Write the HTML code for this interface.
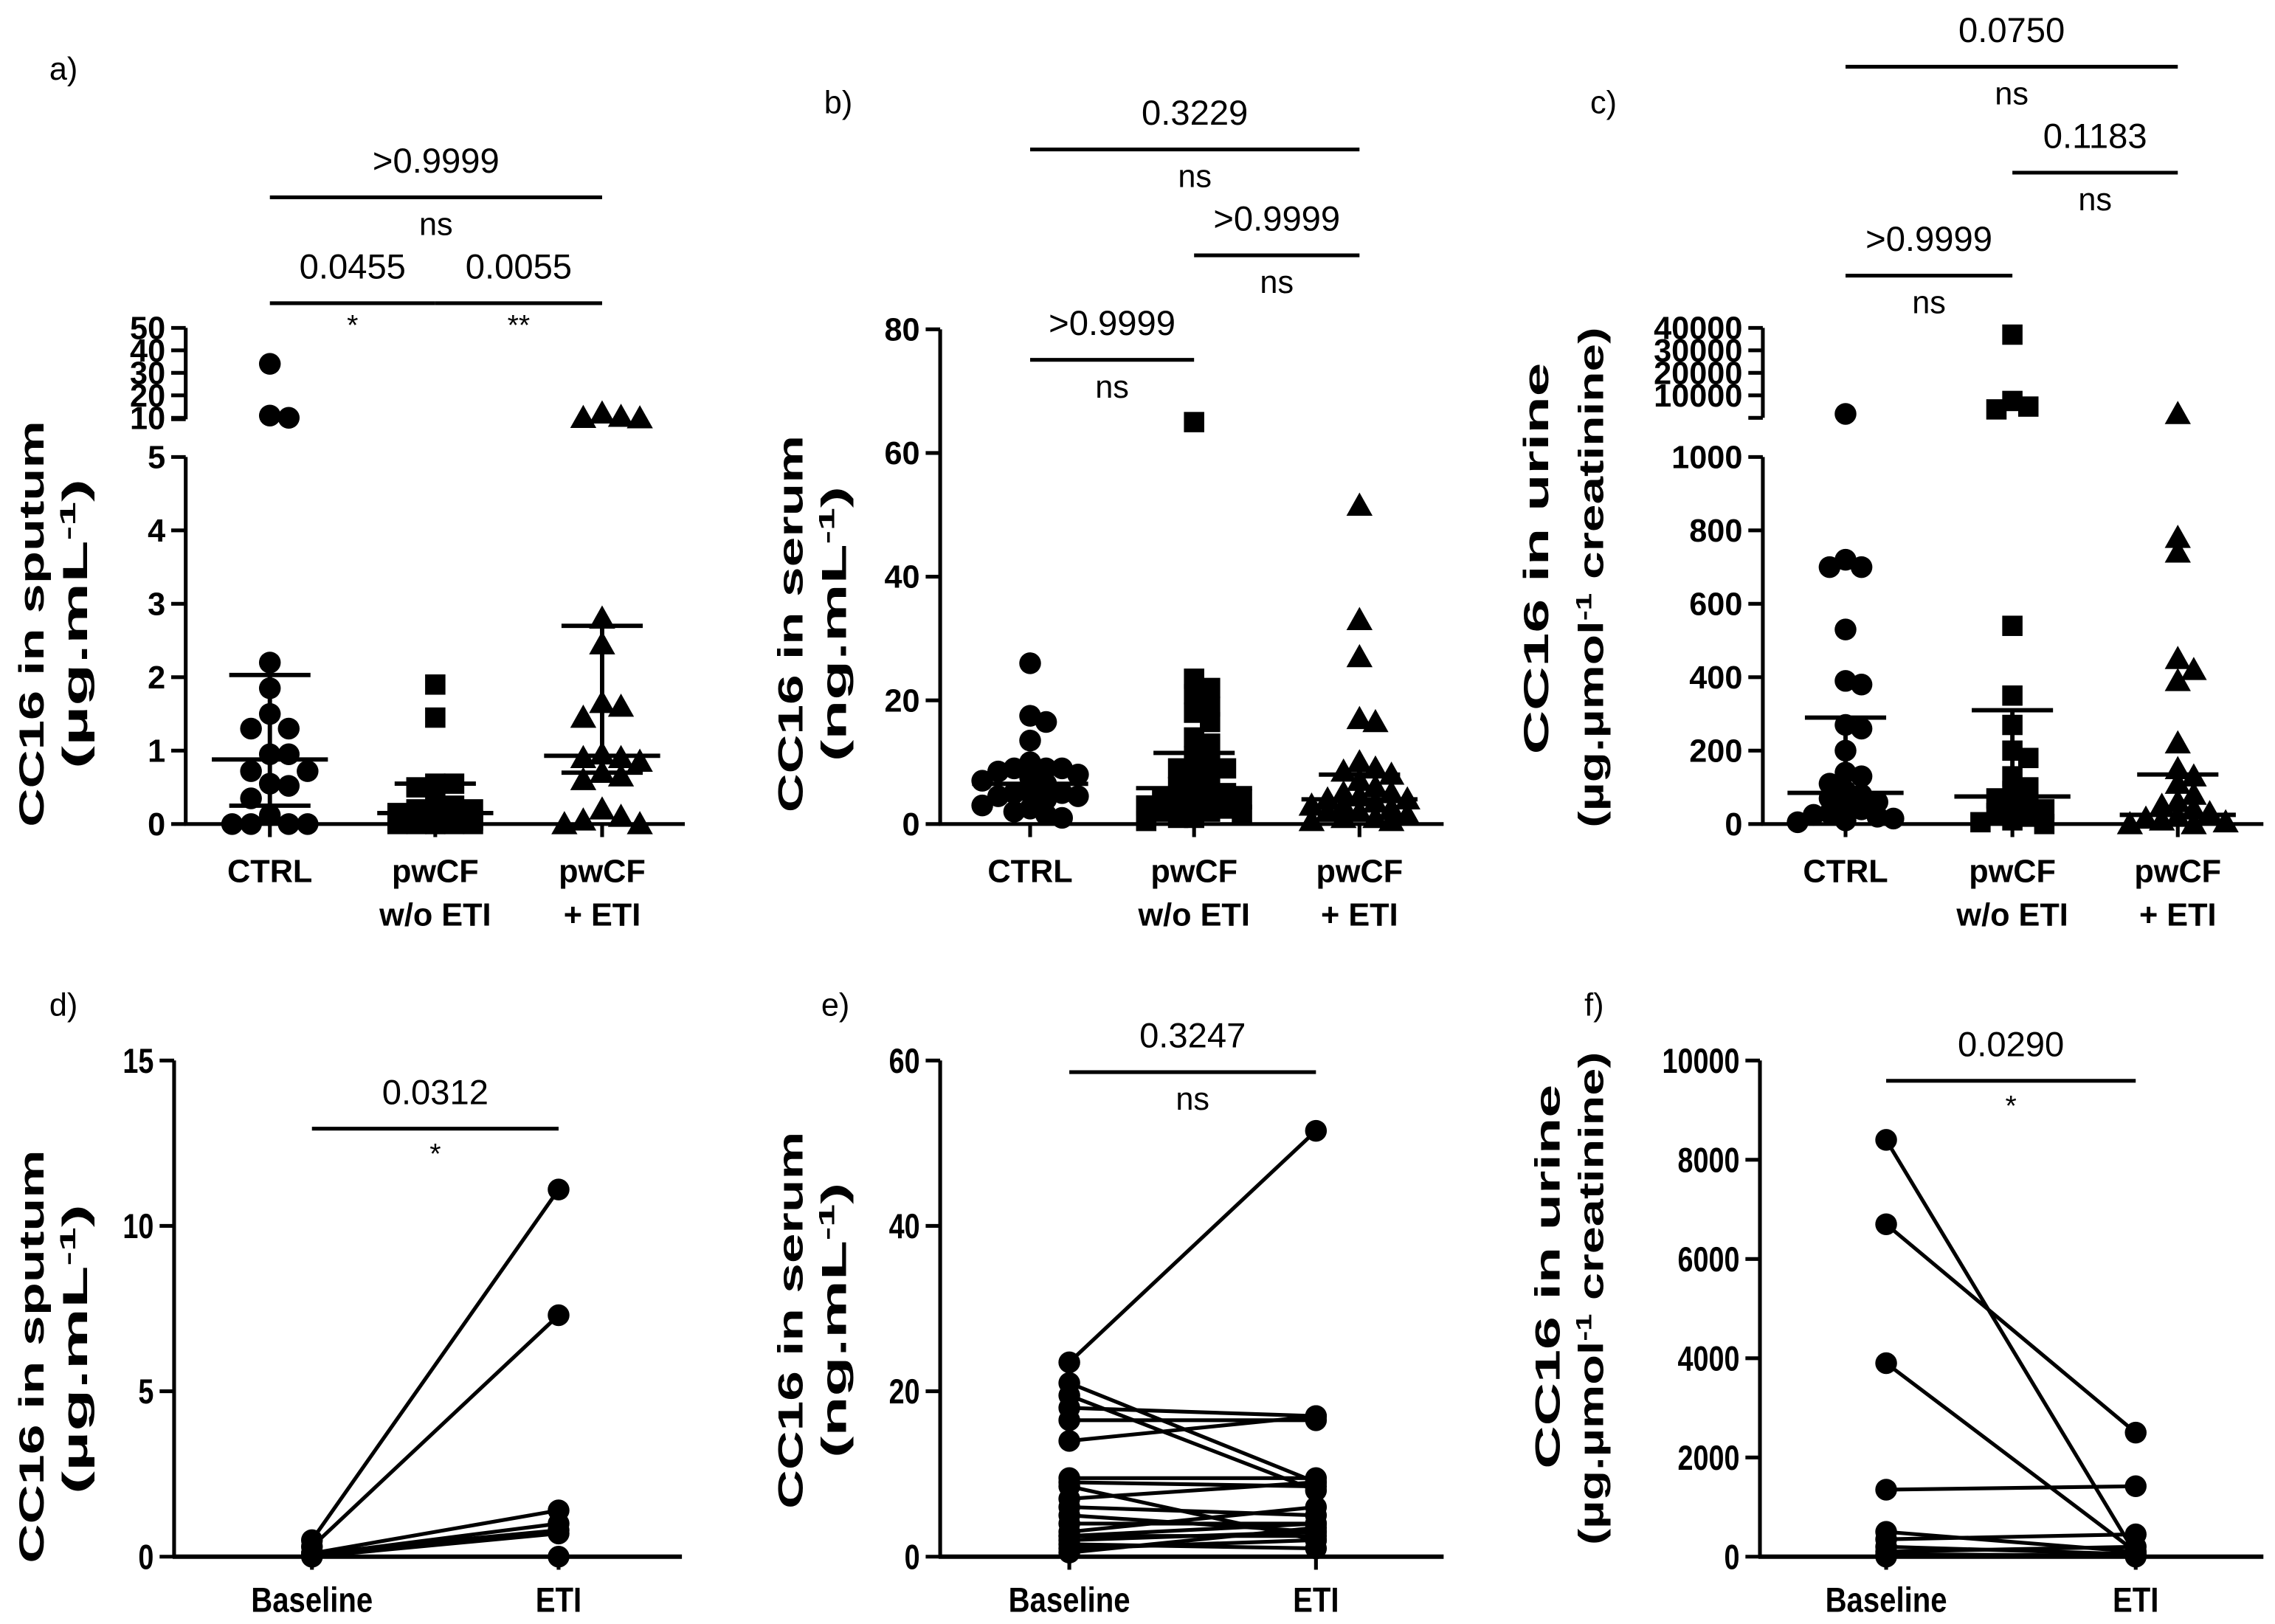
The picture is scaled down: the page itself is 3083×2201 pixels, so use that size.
<!DOCTYPE html>
<html><head><meta charset="utf-8"><style>
html,body{margin:0;padding:0;background:#fff}
svg{display:block}
text{font-family:"Liberation Sans",Arial,sans-serif;fill:#000}
</style></head><body>
<svg id="fig" xmlns="http://www.w3.org/2000/svg" width="3083" height="2201" viewBox="0 0 1568 1119.4"></svg>
<script>
// ---------- DATA ----------
const groupLabels = [["CTRL"],["pwCF","w/o ETI"],["pwCF","+ ETI"]];
// panel a (sputum, µg/mL)
const aCtrl = [34,11,10,2.2,1.85,1.5,1.3,1.3,0.95,0.95,0.72,0.72,0.55,0.52,0.35,0.12,0,0,0,0];
const aNoEti = [1.9,1.45,0.55,0.55,0.5,0.3,0.25,0.2,0.2,0.15,0.15,0.1,0.1,0.05,0.05,0.05,0,0,0,0,0,0];
const aEti = [12,10.5,10,9.5,2.8,2.45,1.65,1.6,1.45,0.95,0.9,0.9,0.85,0.7,0.65,0.6,0.2,0.1,0.05,0,0];
const aMed = [0.88,0.15,0.93], aQ1 = [0.25,0.02,0.7], aQ3 = [2.03,0.55,2.7];
// panel b (serum, ng/mL)
const bCtrl = [26,17.5,16.5,13.5,10,9,9,9,8.5,8,7.5,7,6.5,5,5,5,4.5,4.5,4,3,2.5,2,1.5,1];
const bNoEti = [65,23.5,22,21,19,18,16.5,14,13,11,10,9,9,8,7,6,5.5,5,4.5,4,4,3.5,3,3,2.5,2,2,1.5,1,1,0.5];
const bEti = [51.5,33,27,17,16.5,10,9,8.5,8,7,6,5,5,4.5,4,4,3.5,3,3,2.5,2,2,1.5,1,1,0.5,0.5];
const bMed = [6.5,5.8,4], bQ1 = [6.5,2.5,1], bQ3 = [6.5,11.5,8];
// panel c (urine, µg/µmol creatinine)
const cCtrl = [6700,720,700,700,530,390,380,270,260,200,140,130,110,90,80,70,60,50,40,30,25,20,15,10,5];
const cNoEti = [37000,9000,8000,7500,540,350,270,200,180,130,100,90,70,60,50,40,30,20,10,5,0];
const cEti = [6700,780,740,450,420,390,220,150,130,110,80,60,50,40,30,20,15,10,5,0,0];
const cMed = [85,75,25], cQ1 = [85,75,25], cQ3 = [290,310,135];
// paired panels
const pairLabels = ["Baseline","ETI"];
const dBase = [0.5,0.3,0.1,0.05,0.1,0,0], dEti = [11.1,7.3,1.4,1.0,0.8,0.7,0];
const eBase = [23.5,21,19.5,18,16.5,14,9.5,9,8.5,7,6,5,4,3,2.5,2.5,2,1.5,1,0.5];
const eEti = [51.5,9,8,17,16.5,17,9.5,8.5,2,9,5,3,4,6,4,2.5,3,1,2,3.5];
const fBase = [8400,6700,3900,1350,500,350,200,100,50,0];
const fEti = [50,2500,100,1420,100,450,50,200,20,0];
// ticks
const aLowTicks = [0,1,2,3,4,5], aUpTicks = [10,20,30,40,50];
const bTicks = [0,20,40,60,80];
const cLowTicks = [0,200,400,600,800,1000], cUpTicks = [10000,20000,30000,40000];
const dTicks = [0,5,10,15], eTicks = [0,20,40,60], fTicks = [0,2000,4000,6000,8000,10000];
// significance brackets: [label, fromGroup, toGroup, stars]
const aSig = [[">0.9999",0,2,"ns"],["0.0455",0,1,"*"],["0.0055",1,2,"**"]];
const bSig = [["0.3229",0,2,"ns"],[">0.9999",1,2,"ns"],[">0.9999",0,1,"ns"]];
const cSig = [["0.0750",0,2,"ns"],["0.1183",1,2,"ns"],[">0.9999",0,1,"ns"]];
const dSig = ["0.0312","*"], eSig = ["0.3247","ns"], fSig = ["0.0290","*"];

// ---------- DRAWING ----------
const NS="http://www.w3.org/2000/svg";
const svg=document.getElementById('fig');
function el(tag,attrs,parent,txt){const e=document.createElementNS(NS,tag);for(const k in attrs)e.setAttribute(k,attrs[k]);if(txt!==undefined)e.textContent=txt;(parent||svg).appendChild(e);return e;}
function line(g,x1,y1,x2,y2,w){return el('line',{x1,y1,x2,y2,stroke:'#000','stroke-width':w||2.6},g);}
function txt(g,x,y,s,size,anchor,bold){return el('text',{x,y,'font-size':size,'text-anchor':anchor||'middle','font-weight':bold?'bold':'normal'},g,s);}

function makeScale(ax){
  return function(v){
    if(!ax.up || v<=ax.lowMax) return ax.y0-(v/ax.lowMax)*(ax.y0-ax.y1);
    const vs=ax.up.vals, ps=ax.up.pos;
    if(v<=vs[0]) return ps[0];
    for(let i=1;i<vs.length;i++){ if(v<=vs[i]) return ps[i-1]+(v-vs[i-1])/(vs[i]-vs[i-1])*(ps[i]-ps[i-1]); }
    return ps[ps.length-1];
  };
}
function marker(g,shape,x,y,name){
  let m;
  if(shape==='c') m=el('circle',{cx:x,cy:y,r:7.5,fill:'#000'},g);
  else if(shape==='s') m=el('rect',{x:x-7,y:y-7,width:14,height:14,fill:'#000'},g);
  else m=el('polygon',{points:`${x},${y-9} ${x+9},${y+7} ${x-9},${y+7}`,fill:'#000'},g);
  
  
  return m;
}
function yTitle(g,x,gap,lines){
  lines.forEach((ln,i)=>{
    const t=el('text',{x:0,y:0,'font-size':24,'font-weight':'bold','text-anchor':'middle',textLength:ln.len,lengthAdjust:'spacingAndGlyphs',transform:`translate(${x+i*gap},${ln.cy}) rotate(-90)`},g);
    
    
    ln.parts.forEach(p=>{el('tspan',p.sup?{'baseline-shift':'super','font-size':15}:{},t,p.t);});
  });
}
function axisY(g,ax,lowTicks,upTicks,fs,sx){
  const sc=makeScale(ax);
  line(g,ax.x,ax.y0+1,ax.x,ax.y1);
  const lab=(v,y,cls)=>{
    const t=el('text',{x:0,y:0,'font-size':fs,'font-weight':'bold','text-anchor':'end',transform:`translate(${ax.x-14},${y+fs*0.35}) scale(${sx},1)`},g,String(v));
    
  };
  lowTicks.forEach(v=>{const y=sc(v);line(g,ax.x-10,y,ax.x,y);lab(v,y,'y-tick-label');});
  if(ax.up){
    const ps=ax.up.pos;
    line(g,ax.x,ps[0],ax.x,ps[ps.length-1]);
    line(g,ax.x-10,ps[0],ax.x,ps[0]);
    upTicks.forEach(v=>{const y=sc(v);line(g,ax.x-10,y,ax.x,y);lab(v,y,'y-tick-label-upper');});
  }
  return sc;
}
function scatterPanel(cfg){
  const g=el('g',{},svg);
  
  
  const pl=txt(g,cfg.lx,cfg.ly,cfg.letter,22,'start');
  
  const sc=axisY(g,cfg.ax,cfg.lowTicks,cfg.upTicks,22,1);
  line(g,cfg.ax.x-1,cfg.ax.y0,cfg.xEnd,cfg.ax.y0);
  cfg.gx.forEach((gx,i)=>{
    line(g,gx,cfg.ax.y0,gx,cfg.ax.y0+9);
    groupLabels[i].forEach((s,j)=>{const t=txt(g,gx,cfg.ax.y0+40+j*30,s,22,'middle',true);});
    const vals=cfg.data[i].slice().sort((a,b)=>b-a);
    const placed=[];const d=cfg.spread;const maxK=Math.floor(cfg.cap/d)*2;
    vals.forEach(v=>{
      const y=sc(v);let best=0,bestD=-1;
      for(let k=0;k<=maxK;k++){
        const cand=k===0?0:(k%2?1:-1)*Math.ceil(k/2)*d;
        const md=placed.length?Math.min(...placed.map(p=>Math.hypot(p[0]-cand,p[1]-y))):999;
        if(md>=cfg.minDist){best=cand;break;}
        if(md>bestD){bestD=md;best=cand;}
      }
      placed.push([best,y]);
      marker(g,cfg.shape[i],gx+best,y,'data-point');
    });
    const ym=sc(cfg.med[i]),y1=sc(cfg.q1[i]),y3=sc(cfg.q3[i]);
    line(g,gx,y1,gx,y3,3);
    line(g,gx-40,ym,gx+40,ym,3);
    if(cfg.q1[i]!==cfg.med[i]) line(g,gx-28,y1,gx+28,y1,3);
    line(g,gx-28,y3,gx+28,y3,3);
  });
  cfg.sig.forEach((s,i)=>{
    const y=cfg.sigY[i];const x1=cfg.gx[s[1]],x2=cfg.gx[s[2]];
    const l=line(g,x1,y,x2,y,2.6);
    const t1=txt(g,(x1+x2)/2,y-17,s[0],24);
    const t2=txt(g,(x1+x2)/2,y+(s[3]==='ns'?26:22),s[3],s[3]==='ns'?22:20);
  });
  yTitle(g,cfg.tx,cfg.gap||30,cfg.title);
}
function pairedPanel(cfg){
  const g=el('g',{},svg);
  
  
  const pl=txt(g,cfg.lx,cfg.ly,cfg.letter,22,'start');
  
  const sc=axisY(g,cfg.ax,cfg.ticks,null,24,0.8);
  line(g,cfg.ax.x-1,cfg.ax.y0,cfg.xEnd,cfg.ax.y0,3);
  cfg.gx.forEach((gx,i)=>{
    line(g,gx,cfg.ax.y0,gx,cfg.ax.y0+9);
    const t=el('text',{x:0,y:0,'font-size':24,'font-weight':'bold','text-anchor':'middle',transform:`translate(${gx},${cfg.ax.y0+38}) scale(0.85,1)`},g,pairLabels[i]);
    
  });
  cfg.base.forEach((v,i)=>{
    const l=line(g,cfg.gx[0],sc(v),cfg.gx[1],sc(cfg.eti[i]),2.6);
    
    marker(g,'c',cfg.gx[0],sc(v),'baseline-point');
    marker(g,'c',cfg.gx[1],sc(cfg.eti[i]),'eti-point');
  });
  const y=cfg.sigY,x1=cfg.gx[0],x2=cfg.gx[1];
  const l=line(g,x1,y,x2,y,2.6);
  const t1=txt(g,(x1+x2)/2,y-17,cfg.sig[0],24);
  const t2=txt(g,(x1+x2)/2,y+(cfg.sig[1]==='ns'?26:24),cfg.sig[1],cfg.sig[1]==='ns'?22:20);
  yTitle(g,cfg.tx,cfg.gap||30,cfg.title);
}
const Usp=[{t:'(µg.mL'},{t:'-1',sup:true},{t:')'}];
const Use=[{t:'(ng.mL'},{t:'-1',sup:true},{t:')'}];
const Uur=[{t:'(µg.µmol'},{t:'-1',sup:true},{t:' creatinine)'}];
scatterPanel({name:'panel-a-sputum',letter:'a)',lx:34,ly:55,
  ax:{x:128,y0:568,y1:315,lowMax:5,up:{vals:[8,10,20,30,40,50],pos:[289,288,272.5,257,241.5,226]}},
  lowTicks:aLowTicks,upTicks:aUpTicks,xEnd:472,gx:[186,300,415],data:[aCtrl,aNoEti,aEti],shape:['c','s','t'],
  med:aMed,q1:aQ1,q3:aQ3,spread:13,minDist:12,cap:34,sig:aSig,sigY:[136,209,209],tx:30,
  title:[{parts:[{t:'CC16 in sputum'}],len:280,cy:430},{parts:Usp,len:200,cy:430}]});
scatterPanel({name:'panel-b-serum',letter:'b)',lx:568,ly:78,
  ax:{x:648,y0:568,y1:227,lowMax:80},
  lowTicks:bTicks,upTicks:null,xEnd:995,gx:[710,823,937],data:[bCtrl,bNoEti,bEti],shape:['c','s','t'],
  med:bMed,q1:bQ1,q3:bQ3,spread:11,minDist:10,cap:40,sig:bSig,sigY:[103,176,248],tx:553,
  title:[{parts:[{t:'CC16 in serum'}],len:260,cy:430},{parts:Use,len:190,cy:430}]});
scatterPanel({name:'panel-c-urine',letter:'c)',lx:1096,ly:78,
  ax:{x:1215,y0:568,y1:315,lowMax:1000,up:{vals:[6000,10000,20000,30000,40000],pos:[288,272.5,257,241.5,226]}},
  lowTicks:cLowTicks,upTicks:cUpTicks,xEnd:1560,gx:[1272,1387,1501],data:[cCtrl,cNoEti,cEti],shape:['c','s','t'],
  med:cMed,q1:cQ1,q3:cQ3,spread:11,minDist:10,cap:40,sig:cSig,sigY:[46,119,190],tx:1067,gap:38,
  title:[{parts:[{t:'CC16 in urine'}],len:270,cy:385},{parts:Uur,len:345,cy:398}]});
pairedPanel({name:'panel-d-sputum-paired',letter:'d)',lx:34,ly:700,
  ax:{x:120,y0:1073,y1:731,lowMax:15},ticks:dTicks,xEnd:470,gx:[215,385],base:dBase,eti:dEti,
  sig:dSig,sigY:778,tx:30,title:[{parts:[{t:'CC16 in sputum'}],len:285,cy:935},{parts:Usp,len:200,cy:930}]});
pairedPanel({name:'panel-e-serum-paired',letter:'e)',lx:566,ly:700,
  ax:{x:648,y0:1073,y1:731,lowMax:60},ticks:eTicks,xEnd:995,gx:[737,907],base:eBase,eti:eEti,
  sig:eSig,sigY:739,tx:553,title:[{parts:[{t:'CC16 in serum'}],len:260,cy:910},{parts:Use,len:190,cy:910}]});
pairedPanel({name:'panel-f-urine-paired',letter:'f)',lx:1092,ly:700,
  ax:{x:1213,y0:1073,y1:731,lowMax:10000},ticks:fTicks,xEnd:1560,gx:[1300,1472],base:fBase,eti:fEti,
  sig:fSig,sigY:745,tx:1075,title:[{parts:[{t:'CC16 in urine'}],len:265,cy:880},{parts:Uur,len:340,cy:895}]});
</script>
</body></html>
